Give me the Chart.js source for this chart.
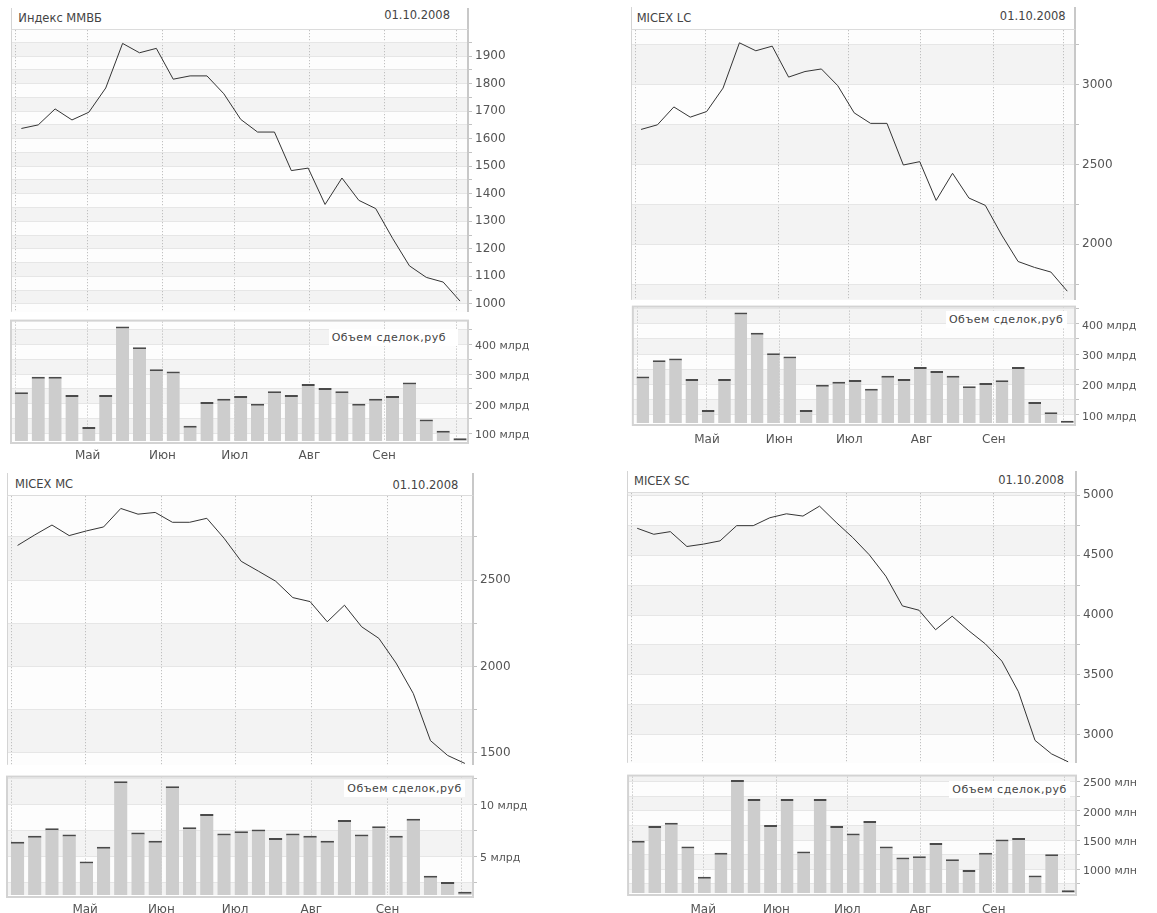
<!DOCTYPE html>
<html><head><meta charset="utf-8">
<script src="https://cdn.jsdelivr.net/npm/chart.js@4.4.1/dist/chart.umd.min.js"></script>
<style>
html,body{margin:0;padding:0;background:#fff;}
body{position:relative;width:1157px;height:913px;overflow:hidden;font-family:"DejaVu Sans",sans-serif;}
canvas{position:absolute;}
.tbar{position:absolute;box-sizing:border-box;background:#fff;border-left:1px solid #d4d4d4;border-right:2px solid #c8c8c8;border-bottom:1px solid #dcdcdc;}
.ttl{position:absolute;font-size:11.5px;line-height:11.5px;color:#444;white-space:nowrap;}
.vl{position:absolute;background:#fff;font-size:11px;line-height:11px;color:#444;letter-spacing:0.5px;white-space:nowrap;}
</style></head><body>
<script>
// ---------- data ----------
const weekDates = ['2008-04-03','2008-04-10','2008-04-17','2008-04-24','2008-05-01','2008-05-08','2008-05-15','2008-05-22','2008-05-29','2008-06-05','2008-06-12','2008-06-19','2008-06-26','2008-07-03','2008-07-10','2008-07-17','2008-07-24','2008-07-31','2008-08-07','2008-08-14','2008-08-21','2008-08-28','2008-09-04','2008-09-11','2008-09-18','2008-09-25','2008-10-02'];
const monthStarts = ['2008-04-01','2008-05-01','2008-06-01','2008-07-01','2008-08-01','2008-09-01','2008-10-01'];
const monthLabels = ['', 'Май', 'Июн', 'Июл', 'Авг', 'Сен', ''];
const chartTitles = ['Индекс ММВБ', 'MICEX LC', 'MICEX MC', 'MICEX SC'];
const reportDate = '01.10.2008';
const volumeCaption = 'Объем сделок,руб';
const volumeUnits = ['млрд', 'млрд', 'млрд', 'млн'];

const mmvbPrice = [1637,1650,1708,1668,1696,1784,1946,1912,1928,1816,1828,1828,1763,1670,1624,1624,1484,1493,1361,1457,1376,1346,1238,1138,1096,1079,1010];
const mmvbVolume = [239,291,291,230,122,230,461,391,317,309,126,206,217,226,200,242,230,267,253,242,200,217,226,272,147,109,84];

const lcPrice = [2720,2749,2861,2797,2832,2979,3263,3213,3242,3048,3083,3099,2994,2824,2758,2758,2497,2518,2275,2445,2290,2244,2058,1892,1855,1826,1706];
const lcVolume = [226,280,285,218,116,218,437,370,303,292,116,199,209,215,186,229,218,257,244,229,194,205,214,257,142,108,80];

const mcPrice = [2701,2762,2819,2758,2785,2808,2915,2882,2892,2835,2835,2858,2743,2609,2552,2494,2399,2376,2259,2355,2230,2163,2020,1844,1571,1485,1439];
const mcVolume = [6.42,6.99,7.72,7.12,4.53,5.95,12.25,7.31,6.52,11.77,7.82,9.08,7.22,7.44,7.59,6.77,7.22,6.99,6.52,8.51,7.12,7.91,6.99,8.64,3.16,2.56,1.61];

const scPrice = [4724,4674,4696,4572,4592,4619,4746,4746,4812,4845,4826,4909,4774,4647,4503,4324,4076,4040,3877,3990,3869,3759,3615,3359,2953,2840,2774];
const scVolume = [1489,1742,1798,1388,871,1281,2528,2202,1758,2202,1303,2202,1742,1612,1826,1388,1202,1225,1449,1174,989,1281,1511,1534,893,1258,640];

// ---------- helpers ----------
const ORIGIN = Date.UTC(2008, 3, 1);
function dayOf(s){ const [y,m,d] = s.split('-').map(Number); return (Date.UTC(y, m-1, d) - ORIGIN) / 86400000; }
const pointX = weekDates.map(s => dayOf(s) + 0.5);   // centre of the day
const monthX = monthStarts.map(dayOf);
const X_MIN = -1.8, X_MAX = 187.8;

Chart.defaults.font.family = 'DejaVu Sans';

const bandsPlugin = {
  id: 'bands',
  beforeDraw(chart, args, o) {
    const {ctx, chartArea: a} = chart;
    const y = chart.scales.y;
    ctx.save();
    ctx.fillStyle = o.base;
    ctx.fillRect(a.left, a.top, a.right - a.left, a.bottom - a.top);
    ctx.fillStyle = o.color;
    for (let v = Math.floor(y.min / o.step) * o.step; v < y.max; v += o.step) {
      const y1 = Math.min(a.bottom, y.getPixelForValue(v));
      const y2 = Math.max(a.top, y.getPixelForValue(v + o.step / 2));
      if (y1 > y2) ctx.fillRect(a.left, y2, a.right - a.left, y1 - y2);
    }
    ctx.restore();
  }
};
const framePlugin = {
  id: 'frame',
  afterDraw(chart, args, o) {
    const {ctx, chartArea: a} = chart;
    ctx.save();
    ctx.strokeStyle = o.color;
    if (o.box) {
      ctx.lineWidth = 2;
      ctx.strokeRect(a.left, a.top - 1, a.right - a.left, a.bottom - a.top + 3);
    } else {
      ctx.lineWidth = 1;
      ctx.beginPath(); ctx.moveTo(a.left + 0.5, a.top); ctx.lineTo(a.left + 0.5, a.bottom); ctx.stroke();
    }
    ctx.restore();
  }
};

const AXIS_W = 72, PAD_L = 4;
function addCanvas(left, top, w, h) {
  const c = document.createElement('canvas');
  c.width = w; c.height = h;
  Object.assign(c.style, {left: left + 'px', top: top + 'px', width: w + 'px', height: h + 'px'});
  document.body.appendChild(c);
  return c;
}
function addDiv(cls, text, style) {
  const d = document.createElement('div');
  d.className = cls; d.textContent = text;
  Object.assign(d.style, style);
  document.body.appendChild(d);
  return d;
}

function xScale(showLabels, height, pad) {
  return {
    type: 'linear', min: X_MIN, max: X_MAX, offset: false,
    afterBuildTicks: s => { s.ticks = monthX.map(v => ({value: v})); },
    afterFit: s => { s.height = height; },
    ticks: {display: showLabels, autoSkip: false, maxRotation: 0, minRotation: 0, padding: pad,
            color: '#555', font: {size: 12}, callback: (v, i) => monthLabels[i]},
    grid: {offset: false, color: '#b3b3b3', lineWidth: 1, drawTicks: false},
    border: {display: false, dash: [1, 2]}
  };
}
function yScale(c, fmt, fontSize, labelOffset, showBorder) {
  return {
    type: 'linear', position: 'right', min: c.min, max: c.max, beginAtZero: false,
    afterBuildTicks: s => {
      const t = [];
      for (let k = Math.ceil(c.min / c.step); k * c.step <= c.max; k++) t.push({value: +(k * c.step).toFixed(6)});
      s.ticks = t;
    },
    afterFit: s => { s.width = AXIS_W; },
    ticks: {padding: 3, color: '#555', labelOffset: labelOffset, autoSkip: false,
            font: {size: fontSize}, callback: v => (Math.abs(v % c.labelStep) < 1e-6 ? fmt(v) : '')},
    grid: {color: '#e6e6e6', tickColor: '#c2c2c2', tickLength: 4, drawTicks: true},
    border: {display: showBorder, color: '#c8c8c8', width: 2}
  };
}

const panels = [
  {title: chartTitles[0], price: mmvbPrice, volume: mmvbVolume, unit: volumeUnits[0],
   line: {L: 11, R: 468, T: 30, B: 314, min: 971, max: 1994, step: 50, labelStep: 100},
   vol: {T: 320, B: 441, min: 74.3, max: 477.7, step: 50, labelStep: 100, pad: 8},
   barTop: 8, titleLeft: 18.3, titleCaps: 14, dateRight: 450, dateCaps: 11.7,
   vlabel: {boxRight: 458, textRight: 446, capsTop: 333.3}},
  {title: chartTitles[1], price: lcPrice, volume: lcVolume, unit: volumeUnits[1],
   line: {L: 631, R: 1075, T: 30, B: 302, min: 1652, max: 3342, step: 250, labelStep: 500},
   vol: {T: 306, B: 423, min: 73, max: 453, step: 50, labelStep: 100, pad: 10},
   barTop: 7, titleLeft: 636.7, titleCaps: 14, dateRight: 1065.7, dateCaps: 12.7,
   vlabel: {boxRight: 1067, textRight: 1063.3, capsTop: 315.7}},
  {title: chartTitles[2], price: mcPrice, volume: mcVolume, unit: volumeUnits[2],
   line: {L: 7, R: 473, T: 496, B: 767, min: 1431, max: 2986, step: 250, labelStep: 500},
   vol: {T: 776, B: 895, min: 1.3, max: 12.59, step: 2.5, labelStep: 5, pad: 7.3},
   barTop: 473, titleLeft: 15, titleCaps: 480, dateRight: 458.3, dateCaps: 481,
   vlabel: {boxRight: 465, textRight: 461.7, capsTop: 784}},
  {title: chartTitles[3], price: scPrice, volume: scVolume, unit: volumeUnits[3],
   line: {L: 627, R: 1076, T: 493, B: 765, min: 2766, max: 5017, step: 250, labelStep: 500},
   vol: {T: 775, B: 893, min: 595, max: 2585, step: 250, labelStep: 500, pad: 9.3},
   barTop: 471, titleLeft: 634, titleCaps: 477.7, dateRight: 1064, dateCaps: 476.7,
   vlabel: {boxRight: 1070, textRight: 1066.7, capsTop: 785.7}}
];

panels.forEach(p => {
  const lc = p.line, vc = p.vol;
  const W = PAD_L + (lc.R - lc.L) + AXIS_W;

  // price line chart
  const lTop = 10, lBot = 8;
  const c1 = addCanvas(lc.L - PAD_L, lc.T - lTop, W, lTop + (lc.B - lc.T) + lBot);
  new Chart(c1, {
    type: 'line',
    data: {datasets: [{data: pointX.map((x, i) => ({x: x, y: p.price[i]})),
      borderColor: '#343434', borderWidth: 1, pointRadius: 0, tension: 0, fill: false}]},
    options: {
      responsive: false, animation: false, events: [],
      layout: {padding: {left: PAD_L, top: lTop, right: 0, bottom: 0}},
      plugins: {legend: {display: false}, tooltip: {enabled: false},
        bands: {base: '#fdfdfd', color: '#f3f3f3', step: lc.labelStep},
        frame: {box: false, color: '#d4d4d4'}},
      scales: {x: xScale(false, lBot, 0), y: yScale(lc, v => String(v), 12, 0, true)}
    },
    plugins: [bandsPlugin, framePlugin]
  });

  // volume bar chart
  const vTop = 8, vBot = 30;
  const c2 = addCanvas(lc.L - PAD_L, vc.T - vTop, W, vTop + (vc.B - vc.T) + vBot);
  new Chart(c2, {
    type: 'bar',
    data: {datasets: [{data: pointX.map((x, i) => ({x: x, y: p.volume[i]})),
      backgroundColor: '#cdcdcd', borderColor: '#4a4a4a',
      borderWidth: {top: 2, right: 0, bottom: 0, left: 0},
      barPercentage: 0.78, categoryPercentage: 1}]},
    options: {
      responsive: false, animation: false, events: [],
      layout: {padding: {left: PAD_L, top: vTop, right: 0, bottom: 0}},
      plugins: {legend: {display: false}, tooltip: {enabled: false},
        bands: {base: '#fdfdfd', color: '#f3f3f3', step: vc.labelStep},
        frame: {box: true, color: '#d3d3d3'}},
      scales: {x: xScale(true, vBot, vc.pad), y: yScale(vc, v => v + ' ' + p.unit, 11, 2, false)}
    },
    plugins: [bandsPlugin, framePlugin]
  });

  // title bar
  const tb = document.createElement('div');
  tb.className = 'tbar';
  Object.assign(tb.style, {left: lc.L + 'px', top: p.barTop + 'px', width: (lc.R - lc.L + 1) + 'px', height: (lc.T - p.barTop) + 'px'});
  document.body.appendChild(tb);
  addDiv('ttl', p.title, {left: p.titleLeft + 'px', top: (p.titleCaps - 1.35) + 'px'});
  addDiv('ttl', reportDate, {right: (1157 - p.dateRight) + 'px', top: (p.dateCaps - 1.35) + 'px'});

  // volume caption
  const vl = p.vlabel;
  addDiv('vl', volumeCaption, {right: (1157 - vl.boxRight) + 'px', top: (vl.capsTop - 1.3 - 3) + 'px',
    padding: '3px ' + (vl.boxRight - vl.textRight) + 'px 3px 3px'});
});
</script>
</body></html>
